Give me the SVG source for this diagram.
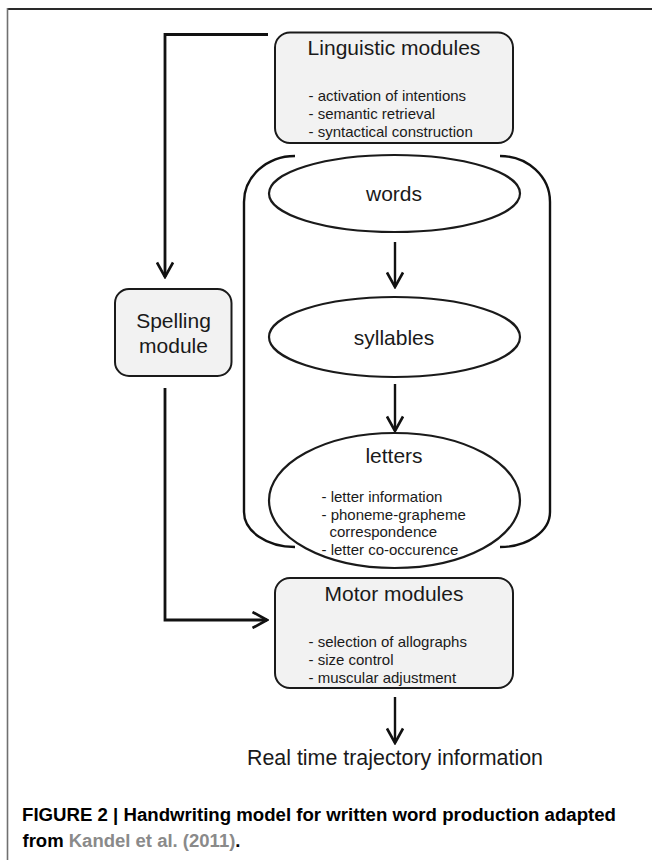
<svg xmlns="http://www.w3.org/2000/svg" width="652" height="860" viewBox="0 0 652 860">
  <defs>
    <style>
      .box { fill: #f2f2f2; stroke: #1a1a1a; stroke-width: 2; }
      .ell { fill: #ffffff; stroke: #1a1a1a; stroke-width: 2.2; }
      .title { font-family: "Liberation Sans", Arial, sans-serif; font-size: 21px; fill: #1a1a1a; text-anchor: middle; }
      .item { font-family: "Liberation Sans", Arial, sans-serif; font-size: 15px; fill: #1a1a1a; }
      .conn { fill: none; stroke: #111; stroke-width: 2.8; stroke-linejoin: miter; }
      .thin { fill: none; stroke: #111; stroke-width: 2.4; }
      .cap { font-family: "Liberation Sans", Arial, sans-serif; font-size: 18px; font-weight: bold; fill: #000; }
    </style>
    <marker id="vhead" viewBox="0 0 18 18" refX="16" refY="9" markerWidth="18" markerHeight="18" markerUnits="userSpaceOnUse" orient="auto">
      <path d="M1.5,1 L16,9 L1.5,17" fill="none" stroke="#111" stroke-width="2.6" stroke-linejoin="miter"/>
    </marker>
  </defs>

  <rect width="652" height="860" fill="#ffffff"/>
  <!-- frame -->
  <line x1="7" y1="9" x2="652" y2="9" stroke="#2a2a2a" stroke-width="2.2"/>
  <line x1="7.5" y1="8" x2="7.5" y2="860" stroke="#707070" stroke-width="1.6"/>

  <!-- container bracket -->
  <g id="container">
    <path class="thin" d="M295,156 A51,46 0 0 0 244,202 L244,512 A51,35 0 0 0 295,547" stroke-width="2"/>
    <path class="thin" d="M500,156 A50,46 0 0 1 550,202 L550,512 A50,35 0 0 1 500,547" stroke-width="2"/>
  </g>

  <g id="connectors">
    <path class="conn" d="M268,34.5 H165 V277" marker-end="url(#vhead)"/>
    <path class="conn" d="M165,388 V620 H267" marker-end="url(#vhead)"/>
    <path class="thin" d="M395,242 V287" marker-end="url(#vhead)"/>
    <path class="thin" d="M395,384 V431" marker-end="url(#vhead)"/>
    <path class="thin" d="M395,697 V743" marker-end="url(#vhead)"/>
  </g>

  <g id="linguistic">
    <rect class="box" x="275" y="32.5" width="238" height="110.5" rx="15" ry="15"/>
    <text class="title" x="394" y="55">Linguistic modules</text>
    <text class="item" x="308.5" y="101">- activation of intentions</text>
    <text class="item" x="308.5" y="119">- semantic retrieval</text>
    <text class="item" x="308.5" y="137">- syntactical construction</text>
  </g>

  <g id="spelling">
    <rect class="box" x="115" y="289" width="116.5" height="87" rx="14" ry="14"/>
    <text class="title" x="173.5" y="328">Spelling</text>
    <text class="title" x="173.5" y="353">module</text>
  </g>

  <g id="words">
    <ellipse class="ell" cx="394.5" cy="193.5" rx="125.5" ry="38.5"/>
    <text class="title" x="394" y="200.5">words</text>
  </g>

  <g id="syllables">
    <ellipse class="ell" cx="394.5" cy="337" rx="125.5" ry="40"/>
    <text class="title" x="394" y="344.5">syllables</text>
  </g>

  <g id="letters">
    <ellipse class="ell" cx="394.5" cy="500.5" rx="125.5" ry="67.5"/>
    <text class="title" x="394" y="463">letters</text>
    <text class="item" x="321.5" y="502">- letter information</text>
    <text class="item" x="321.5" y="520">- phoneme-grapheme</text>
    <text class="item" x="329.5" y="537">correspondence</text>
    <text class="item" x="321.5" y="555">- letter co-occurence</text>
  </g>

  <g id="motor">
    <rect class="box" x="275" y="578" width="238" height="110" rx="15" ry="15"/>
    <text class="title" x="394" y="601">Motor modules</text>
    <text class="item" x="308.5" y="647">- selection of allographs</text>
    <text class="item" x="308.5" y="665">- size control</text>
    <text class="item" x="308.5" y="683">- muscular adjustment</text>
  </g>

  <g id="output">
    <text class="title" x="395" y="765" style="font-size:21.4px">Real time trajectory information</text>
  </g>

  <g id="caption">
    <text class="cap" x="22" y="821" textLength="594" lengthAdjust="spacingAndGlyphs">FIGURE 2 | Handwriting model for written word production adapted</text>
    <text class="cap" x="22.5" y="847" textLength="218" lengthAdjust="spacingAndGlyphs">from <tspan fill="#8a8a8a">Kandel et al. (2011)</tspan>.</text>
  </g>
</svg>
